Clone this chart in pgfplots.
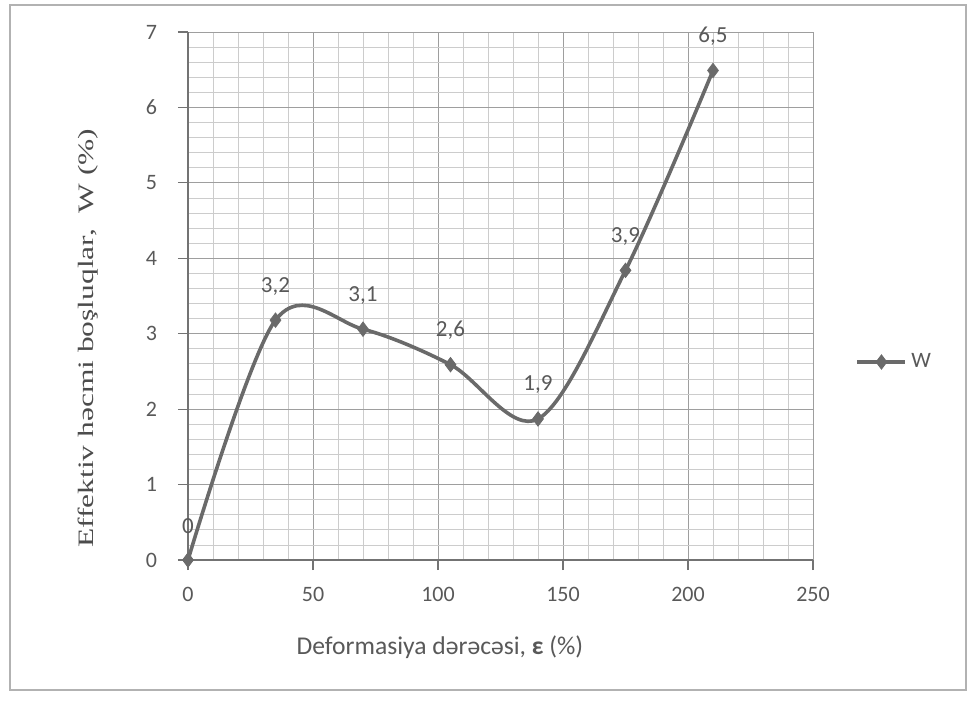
\documentclass[border=0pt]{standalone}
\usepackage{fontspec}
\setmainfont{Carlito}
\newfontfamily\serif{Liberation Serif}
\usepackage{graphicx}
\usepackage{pgfplots}
\pgfplotsset{compat=1.18}
\definecolor{txt}{HTML}{595959}
\definecolor{ln}{HTML}{6A6A6A}
\begin{document}
\begin{tikzpicture}
\useasboundingbox (0,0) rectangle (486pt,351pt);
\draw[draw=black!30, line width=0.8pt] (5pt,6pt) rectangle (483pt,348.5pt);
\begin{axis}[
  at={(94pt,71pt)}, anchor=south west,
  scale only axis, width=312.5pt, height=264pt,
  xmin=0, xmax=250, ymin=0, ymax=7,
  xtick={0,50,...,250}, ytick={0,1,...,7},
  minor x tick num=4, minor y tick num=4,
  grid=both,
  major grid style={draw=black!38, line width=0.5pt},
  minor grid style={draw=black!20, line width=0.4pt},
  axis lines=left,
  axis line style={draw=black!55, line width=0.7pt, -},
  tick align=outside, major tick length=5pt, minor tick length=0pt,
  tick style={draw=black!55, line width=0.6pt},
  /pgf/number format/assume math mode=true,
  ticklabel style={font=\fontsize{11}{13}\selectfont, text=txt},
  xticklabel style={yshift=-5pt},
  yticklabel style={xshift=-7pt},
  xlabel={Deformasiya dərəcəsi, \textbf{ε} (\%)},
  xlabel style={at={(axis description cs:0.403,-0.165)}, anchor=center, font=\fontsize{12.8}{15}\selectfont, text=txt},
  ylabel={\serif\fontsize{11}{13}\selectfont\scalebox{1.43}[1]{Effektiv həcmi boşluqlar,\ \ W (\%)}},
  ylabel style={at={(axis description cs:-0.16,0.42)}, anchor=center, text=black!70},
  clip=false,
  legend style={at={(1.058,0.375)}, anchor=west, draw=none, fill=none, font=\fontsize{11}{13}\selectfont, text=txt},
  legend image code/.code={
    \draw[#1, mark=none] (0pt,0pt) -- (24pt,0pt);
    \draw[#1, only marks] plot coordinates {(12pt,0pt)};
  },
]
\addplot[ln, line width=1.8pt, smooth, tension=0.55,
  mark=diamond*, mark size=3.6pt, mark options={fill=ln, draw=ln, line width=0.4pt},
  nodes near coords, point meta=explicit symbolic,
  nodes near coords style={font=\fontsize{11.5}{13}\selectfont, text=txt, anchor=center, yshift=17pt}]
  table[meta=lab] {
x y lab
0 0 0
35 3.18 3,2
70 3.06 3,1
105 2.59 2,6
140 1.87 1,9
175 3.84 3,9
210 6.49 6,5
};
\addlegendentry{W}
\end{axis}
\end{tikzpicture}
\end{document}
